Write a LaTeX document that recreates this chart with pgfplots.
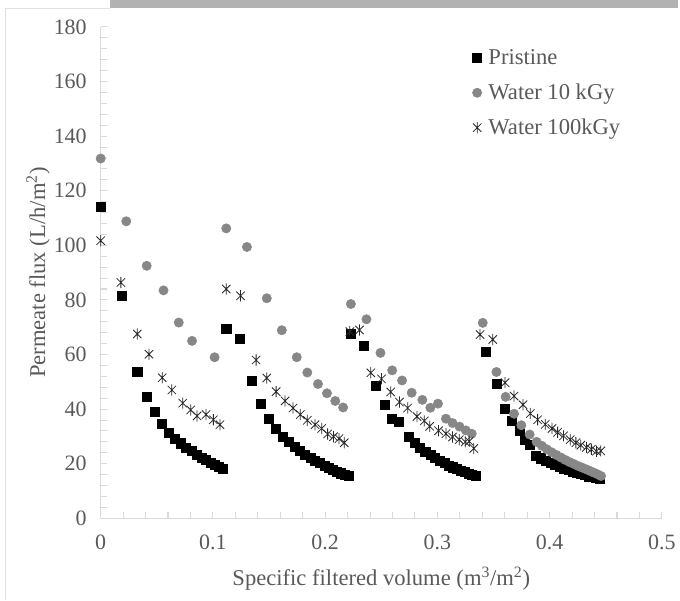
\documentclass[border=0pt]{standalone}
\usepackage{pgfplots}
\pgfplotsset{compat=1.18}
\usepackage{fontspec}
\setmainfont{Liberation Serif}
\definecolor{txt}{RGB}{89,89,89}
\definecolor{axgray}{RGB}{217,217,217}
\definecolor{circ}{RGB}{135,135,135}
\definecolor{starc}{RGB}{40,40,40}
\pgfdeclareplotmark{xstar}{%
  \pgfpathmoveto{\pgfqpoint{-0.75\pgfplotmarksize}{-0.75\pgfplotmarksize}}%
  \pgfpathlineto{\pgfqpoint{0.75\pgfplotmarksize}{0.75\pgfplotmarksize}}%
  \pgfpathmoveto{\pgfqpoint{-0.75\pgfplotmarksize}{0.75\pgfplotmarksize}}%
  \pgfpathlineto{\pgfqpoint{0.75\pgfplotmarksize}{-0.75\pgfplotmarksize}}%
  \pgfpathmoveto{\pgfqpoint{0pt}{-\pgfplotmarksize}}%
  \pgfpathlineto{\pgfqpoint{0pt}{\pgfplotmarksize}}%
  \pgfusepathqstroke}
\begin{document}
\begin{tikzpicture}[x=0.75pt,y=0.75pt]
% page frame (px coordinates relative to axis origin at (101,520))
\path (-101,-82) rectangle (579,520);
\fill[black!30] (9,520) rectangle (579,512);
\draw[black!12, line width=0.6pt] (-96,-82) -- (-96,512) -- (9,512);
\begin{axis}[
  at={(0,0)}, anchor=south west,
  scale only axis, width=422.25pt, height=369.75pt,
  xmin=0, xmax=0.5, ymin=0, ymax=180,
  axis x line*=bottom, axis y line*=left,
  axis line style={draw=axgray, line width=0.8pt},
  xtick={0,0.1,0.2,0.3,0.4,0.5},
  xticklabels={0,0.1,0.2,0.3,0.4,0.5},
  ytick={0,20,40,60,80,100,120,140,160,180},
  minor x tick num=4, minor y tick num=4,
  tick align=inside,
  major tick length=4.5pt, minor tick length=4.5pt,
  every tick/.style={draw=axgray, line width=0.8pt},
  minor tick style={draw=axgray, line width=0.8pt},
  /pgf/number format/assume math mode=true,
  ticklabel style={font=\fontsize{16.5}{19}\selectfont, text=txt},
  xticklabel style={yshift=-9pt},
  yticklabel style={xshift=-7pt},
  xlabel={Specific filtered volume (m\textsuperscript{3}/m\textsuperscript{2})},
  ylabel={Permeate flux (L/h/m\textsuperscript{2})},
  label style={font=\fontsize{17}{20}\selectfont, text=txt},
  xlabel style={yshift=-6pt},
  ylabel style={yshift=-4pt},
  clip=false,
  legend style={at={(0.655,0.965)}, anchor=north west, draw=none, fill=none,
    font=\fontsize{17}{20}\selectfont, text=txt, row sep=9pt,
    legend cell align=left, nodes={inner xsep=5pt}},
  legend image code/.code={\draw[#1] plot coordinates {(0.1cm,0cm)};},
]
% Pristine
\addplot[only marks, mark=square*, mark size=3.4pt, color=black, mark options={draw=black, fill=black}] table {
0 114
0.019 81.5
0.0326 53.8
0.041 44.4
0.0486 39
0.0545 34.6
0.0605 31.5
0.066 29.3
0.071 27.5
0.076 26
0.081 24.6
0.0855 23.4
0.09 22.3
0.094 21.4
0.098 20.5
0.102 19.7
0.1055 18.9
0.109 18.2
0.1119 69.5
0.1243 65.7
0.1347 50.4
0.143 41.9
0.1498 36.6
0.1563 32.7
0.162 30
0.1675 28
0.1725 26.3
0.1775 24.8
0.1822 23.4
0.1868 22.2
0.191 21.1
0.1952 20.2
0.1993 19.3
0.2032 18.5
0.207 17.8
0.2107 17.1
0.2143 16.5
0.2178 16
0.221 15.5
0.2229 67.7
0.2345 63.2
0.2451 48.7
0.2531 41.6
0.2597 36.4
0.2658 35.5
0.2744 29.8
0.2795 27.8
0.2845 26
0.2892 24.5
0.2937 23.2
0.298 22.1
0.3022 21.1
0.3062 20.2
0.3101 19.4
0.3139 18.7
0.3175 18
0.321 17.4
0.3244 16.9
0.3277 16.4
0.3309 16
0.334 15.7
0.3428 61.1
0.3526 49.3
0.36 40.3
0.3665 35.7
0.373 32.2
0.378 28.7
0.3825 27.1
0.3875 22.8
0.392 22
0.3965 21.1
0.4008 20.3
0.405 19.6
0.409 18.9
0.413 18.3
0.4168 17.7
0.4206 17.2
0.4242 16.7
0.4278 16.2
0.4313 15.8
0.4347 15.4
0.4381 15.1
0.4415 14.8
0.4449 14.5
};
\addlegendentry{Pristine}
% Water 10 kGy
\addplot[only marks, mark=*, mark size=3.5pt, color=circ, mark options={draw=circ, fill=circ}] table {
0 131.8
0.0228 108.8
0.041 92.5
0.056 83.5
0.0696 71.7
0.0814 65
0.1015 59
0.1119 106.2
0.1303 99.4
0.148 80.6
0.1614 68.9
0.1747 59
0.1841 53.4
0.1936 49.2
0.2016 45.8
0.209 43
0.216 40.6
0.2229 78.5
0.2368 72.9
0.2493 60.6
0.2597 54.2
0.2685 50.5
0.2771 46
0.2866 43.4
0.2937 40.5
0.3005 42
0.3076 36.5
0.3135 34.9
0.3197 33.6
0.3253 32.2
0.3306 31
0.3404 71.6
0.3526 53.6
0.3608 44.5
0.3683 38.3
0.3748 34.1
0.3822 30.7
0.3884 28
0.393 26.6
0.3975 25.3
0.4018 24.2
0.406 23.2
0.41 22.3
0.414 21.4
0.4178 20.6
0.4216 19.9
0.4252 19.2
0.4288 18.6
0.4323 18
0.4357 17.4
0.4391 16.8
0.4424 16.2
0.4458 15.5
};
\addlegendentry{Water 10 kGy}
% Water 100 kGy
\addplot[only marks, mark=xstar, mark size=4.2pt, color=starc, mark options={draw=starc, line width=0.6pt}] table {
0 101.7
0.018 86.4
0.0326 67.5
0.043 60.1
0.0548 51.5
0.0634 47
0.0731 42.2
0.0802 39.7
0.0859 37.5
0.0939 38
0.1004 36.1
0.1063 34.3
0.1119 84
0.1246 81.5
0.1385 58
0.148 51.4
0.1563 46.4
0.1643 43
0.1714 40.4
0.1779 38
0.1841 35.9
0.191 34.3
0.1969 32.9
0.2022 30.9
0.2075 29.9
0.2123 29.2
0.217 27.7
0.222 68.4
0.2306 69
0.2407 53.3
0.2502 51.1
0.2584 46.3
0.2662 42.6
0.2735 40.4
0.2818 37.3
0.2883 35.7
0.2931 33.7
0.301 32.1
0.3076 31
0.3135 29.8
0.3194 28.8
0.3248 28
0.3283 28.2
0.3324 25.6
0.338 67.3
0.3493 65.5
0.3603 49.7
0.3683 44.8
0.3763 41.6
0.3828 38.4
0.3893 36.1
0.3961 34.4
0.4021 32.9
0.4071 31.5
0.4124 30.2
0.4183 28.8
0.4234 27.7
0.4278 26.8
0.4328 26
0.4372 25.3
0.4417 24.6
0.4456 24.7
};
\addlegendentry{Water 100kGy}
\end{axis}
\end{tikzpicture}
\end{document}
